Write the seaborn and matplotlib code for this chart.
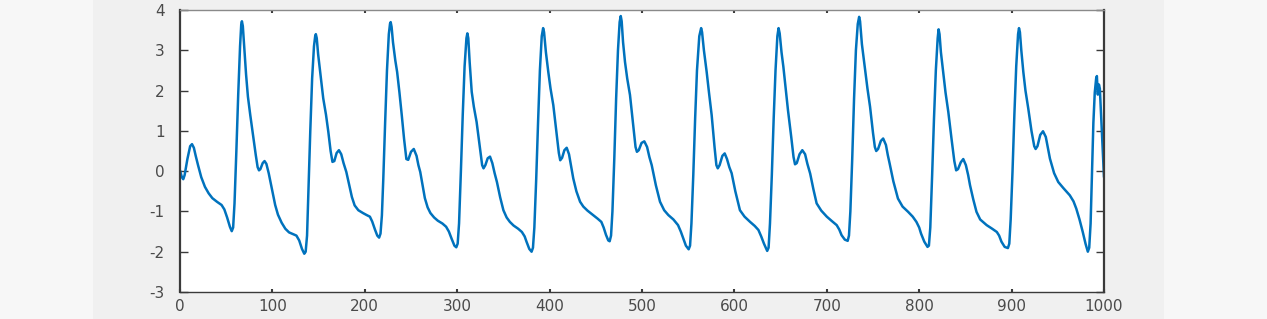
import matplotlib
matplotlib.use("Agg")
import matplotlib.pyplot as plt
import seaborn as sns
import pandas as pd
from matplotlib.patches import Rectangle

# ---- data (sample index, amplitude) ----
sample_index = [
    0, 2, 3.5, 5, 8, 11, 13, 15, 17, 19.5, 23, 27, 31, 35, 40, 45, 48, 51, 54, 56, 57.5, 59, 61, 63, 65, 66.3,
    67, 68, 69.5, 71.5, 73.5, 76, 79, 82, 84, 85.5, 87, 89.5, 91.5, 93.5, 96, 99, 103, 106, 110, 114, 118, 122,
    126, 129, 132, 134.5, 136, 137.5,
    139, 141, 143, 145, 146.3, 147, 148, 149.5, 152, 155, 158, 160.5, 163, 165, 167, 169.5, 172, 174.5, 177, 180,
    183, 186, 189, 193, 198, 202, 205.5, 208, 211, 213.5, 215.5, 217, 218.5,
    220, 222, 224, 226, 227.3, 228, 229, 230.5, 233, 235, 237.5, 240, 242.5, 245, 247, 250, 253, 256, 258, 260,
    262.5, 265, 268, 271, 275, 279, 284, 288, 291, 294, 297, 299, 300.5, 302,
    304, 306, 308, 310, 311, 312, 313.5, 315.7, 318, 321, 324.5, 327, 328.5, 330.5, 333, 335.5, 338, 340.5, 343,
    346.5, 350, 353.5, 357, 361, 366, 370, 373, 375, 378, 380.5, 382, 383.5,
    385.5, 387.5, 389.5, 391.5, 393, 394, 396, 398.6, 401, 404, 407.5, 410, 411.5, 413.5, 416, 418.5, 421, 423.5,
    425.6, 429, 433, 436.5, 441, 447, 452, 456, 458.5, 461, 463.5, 465, 466.5, 468,
    470, 472, 474, 475.8, 477, 478, 479.5, 481.6, 484, 487, 490.5, 493, 494.5, 496.5, 499.5, 502.5, 505.5, 508,
    510.5, 515, 519.5, 524, 528.5, 534, 539, 542, 544.7, 547.5, 550.5, 552, 553.5,
    555.5, 557.5, 559.5, 562, 564, 565, 567, 570, 572.5, 575.4, 578.5, 580.5, 582, 584, 587, 589.5, 592, 594.5,
    597, 601, 606, 611, 617, 622, 626, 629, 632, 635.5, 637, 638.5,
    640.5, 642.5, 644.5, 646.5, 647.8, 649, 651, 653, 655.5, 658, 661.5, 664, 665.6, 667.5, 670.5, 673.5, 676.5,
    679, 682, 685.5, 689, 694, 700, 705, 710.7, 713.5, 716, 719.5, 722.6, 724, 725.5,
    727.5, 729.5, 731.5, 733.5, 735, 736, 738, 741, 744, 746.8, 750, 752, 753.5, 755.5, 758.5, 761, 764, 766,
    768, 772, 777, 782, 788, 793, 797, 800, 802, 805.5, 809, 810.5, 812,
    814, 816, 818, 820, 821, 822, 823.5, 826, 828.5, 831.5, 835, 838, 840, 842, 845, 847.7, 850.5, 853, 855,
    858.5, 862, 866, 873, 879, 884, 886.5, 889, 892.5, 896, 897.5, 899,
    901, 903, 905, 907, 908, 909, 910.5, 912.7, 915, 918, 921.5, 924.5, 926, 928, 931, 934, 937, 939.5, 941.5,
    946, 950.5, 956, 963, 967, 970, 973.5, 977, 980, 982.5, 984, 985.5,
    987, 988.5, 990, 991.5, 992.3, 993.3, 994.5, 995.5, 997, 998.5, 1000,
]

amplitude = [
    0.02, -0.15, -0.2, -0.1, 0.3, 0.62, 0.67, 0.58, 0.38, 0.15, -0.15, -0.39, -0.55, -0.67, -0.76, -0.84, -0.95,
    -1.15, -1.38, -1.49, -1.4, -0.8, 0.5, 1.9, 3.1, 3.65,
    3.72, 3.6, 3.1, 2.4, 1.85, 1.4, 0.9, 0.4, 0.1, 0.02, 0.05, 0.2, 0.25, 0.18, -0.05, -0.39, -0.84, -1.08, -1.28,
    -1.43, -1.52, -1.56, -1.6, -1.72, -1.93, -2.05, -2.0, -1.6,
    -0.5, 1.0, 2.3, 3.1, 3.35, 3.40, 3.3, 2.9, 2.4, 1.81, 1.4, 0.98, 0.5, 0.23, 0.25, 0.45, 0.52, 0.42, 0.2, -0.02,
    -0.33, -0.64, -0.85, -0.97, -1.04, -1.09, -1.13, -1.25, -1.45, -1.6, -1.65, -1.55, -1.1,
    -0.2, 1.2, 2.5, 3.4, 3.66, 3.70, 3.58, 3.2, 2.75, 2.46, 1.95, 1.39, 0.8, 0.30, 0.28, 0.48, 0.55, 0.38, 0.15,
    -0.02, -0.35, -0.67, -0.9, -1.04, -1.15, -1.23, -1.3, -1.38, -1.5, -1.68, -1.85, -1.89, -1.8, -1.3,
    0.0, 1.4, 2.6, 3.3, 3.42, 3.3, 2.7, 1.97, 1.6, 1.22, 0.6, 0.15, 0.07, 0.15, 0.32, 0.36, 0.2, -0.05, -0.27,
    -0.65, -0.97, -1.15, -1.26, -1.35, -1.43, -1.51, -1.62, -1.75, -1.93, -2.0, -1.9, -1.4,
    -0.2, 1.2, 2.5, 3.35, 3.55, 3.45, 2.95, 2.46, 2.05, 1.64, 0.95, 0.45, 0.27, 0.33, 0.52, 0.58, 0.42, 0.1,
    -0.18, -0.5, -0.76, -0.88, -0.98, -1.09, -1.18, -1.26, -1.4, -1.58, -1.72, -1.74, -1.6, -1.0,
    0.3, 1.8, 3.0, 3.7, 3.85, 3.72, 3.2, 2.71, 2.3, 1.89, 1.15, 0.6, 0.48, 0.52, 0.7, 0.74, 0.6, 0.35,
    0.15, -0.35, -0.76, -0.97, -1.09, -1.2, -1.34, -1.5, -1.67, -1.85, -1.94, -1.85, -1.3,
    -0.1, 1.3, 2.5, 3.35, 3.55, 3.45, 3.0, 2.46, 1.95, 1.39, 0.6, 0.15, 0.07, 0.15, 0.38, 0.44, 0.3, 0.1,
    -0.05, -0.5, -0.97, -1.13, -1.26, -1.36, -1.46, -1.62, -1.8, -1.98, -1.9, -1.3,
    -0.1, 1.3, 2.5, 3.35, 3.55, 3.42, 2.95, 2.59, 2.05, 1.51, 0.85, 0.35, 0.17, 0.2, 0.42, 0.52, 0.42,
    0.18, -0.06, -0.45, -0.8, -0.98, -1.13, -1.23, -1.34, -1.45, -1.59, -1.7, -1.73, -1.6, -1.0,
    0.3, 1.8, 3.0, 3.65, 3.83, 3.72, 3.15, 2.59, 2.05, 1.6, 0.95, 0.6, 0.5, 0.55, 0.75, 0.81, 0.65, 0.4,
    0.19, -0.25, -0.68, -0.88, -1.01, -1.13, -1.26, -1.4, -1.55, -1.75, -1.88, -1.85, -1.4,
    -0.1, 1.3, 2.5, 3.3, 3.52, 3.4, 2.95, 2.46, 1.95, 1.47, 0.8, 0.25, 0.02, 0.05, 0.22, 0.3, 0.15, -0.1, -0.35,
    -0.7, -1.01, -1.2, -1.34, -1.43, -1.51, -1.6, -1.75, -1.88, -1.91, -1.8, -1.2,
    0.0, 1.4, 2.6, 3.4, 3.55, 3.45, 3.0, 2.46, 2.0, 1.56, 1.0, 0.62, 0.55, 0.62, 0.9, 0.99, 0.85, 0.55, 0.31,
    -0.05, -0.27, -0.42, -0.6, -0.75, -0.93, -1.2, -1.51, -1.8, -2.0, -1.9, -1.3,
    0.0, 1.2, 1.95, 2.3, 2.36, 1.9, 2.15, 2.05, 1.3, 0.5, -0.15,
]

x_ticks = [0, 100, 200, 300, 400, 500, 600, 700, 800, 900, 1000]
y_ticks = [-3, -2, -1, 0, 1, 2, 3, 4]

df = pd.DataFrame({"sample": sample_index, "value": amplitude})

sns.set_theme(style="white")
plt.rcParams["font.family"] = ["DejaVu Sans"]
plt.rcParams["axes.unicode_minus"] = False

W, H = 1267, 319
fig = plt.figure(figsize=(W / 100, H / 100), dpi=100, facecolor="#f7f7f7")
bg = Rectangle((93 / W, 0), (1164 - 93) / W, 1, transform=fig.transFigure,
               facecolor="#f0f0f0", edgecolor="none", zorder=-10)
fig.add_artist(bg)

ax = fig.add_axes([180 / W, 27 / H, 924 / W, 282 / H])
ax.set_zorder(5)
ax.set_facecolor("white")

sns.lineplot(data=df, x="sample", y="value", ax=ax, color="#0072BD", linewidth=1.8,
             sort=False, estimator=None)

ax.set_xlim(0, 1000)
ax.set_ylim(-3, 4)
ax.set_xticks(x_ticks)
ax.set_yticks(y_ticks)
ax.set_xticklabels([str(t) for t in x_ticks])
ax.set_yticklabels([str(t) for t in y_ticks])
ax.set_xlabel("")
ax.set_ylabel("")

for side in ["left", "right"]:
    ax.spines[side].set_color("#3a3a3a")
    ax.spines[side].set_linewidth(1.6)
ax.spines["bottom"].set_color("#3a3a3a")
ax.spines["bottom"].set_linewidth(1.0)
ax.spines["top"].set_color("#8a8a8a")
ax.spines["top"].set_linewidth(1.0)

ax.tick_params(axis="x", direction="in", length=2.5, width=1.5, color="#3a3a3a",
               top=True, bottom=True, labelsize=11, labelcolor="#4a4a4a", pad=5)
ax.tick_params(axis="y", direction="in", length=6, width=1.0, color="#3a3a3a",
               left=True, right=True, labelsize=11, labelcolor="#4a4a4a", pad=11)

fig.savefig("out.png", dpi=100, facecolor=fig.get_facecolor())
